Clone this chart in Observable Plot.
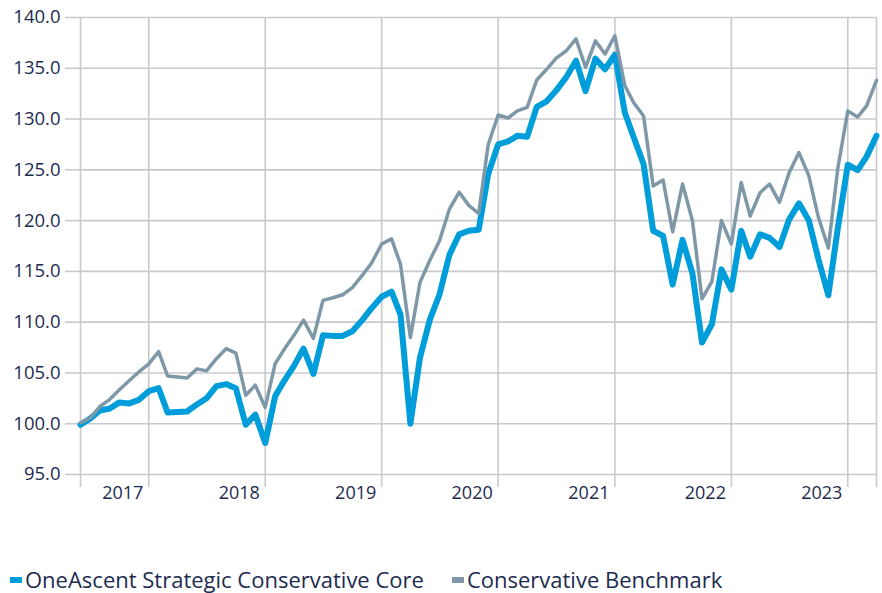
<!DOCTYPE html>
<html>
<head>
<meta charset="utf-8">
<script src="https://cdn.jsdelivr.net/npm/d3@7"></script>
<script src="https://cdn.jsdelivr.net/npm/@observablehq/plot@0.6"></script>
<style>
  html, body { margin: 0; padding: 0; background: #fff; }
  #wrap { position: relative; width: 882px; height: 593px; font-family: "Open Sans", sans-serif; }
  #legend { position: absolute; left: 10px; top: 567px; display: flex; align-items: center; font-size: 22px; line-height: 25px; color: #1d2b4f; white-space: nowrap; }
  .item { display: flex; align-items: center; margin-right: 28px; }
  .sw { width: 12px; height: 6px; margin-right: 3px; }
</style>
</head>
<body>
<div id="wrap">
  <div id="chart"></div>
  <div id="legend"></div>
</div>
<script>
const seriesNames = ["OneAscent Strategic Conservative Core", "Conservative Benchmark"];
const seriesColors = ["#009ddb", "#7f98a8"];

// monthly index values, Jun 2016 .. Apr 2023 (start = 100)
const fund = [
  99.9, 100.5, 101.3, 101.5, 102.1, 102.0, 102.35, 103.2, 103.5, 101.1,
  101.15, 101.2, 101.9, 102.5, 103.7, 103.9, 103.5, 99.9, 100.9, 98.1,
  102.7, 104.2, 105.7, 107.4, 104.9, 108.7, 108.65, 108.65, 109.1, 110.2,
  111.4, 112.5, 113.0, 110.75, 100.0, 106.5, 110.25, 112.7, 116.6, 118.65,
  119.0, 119.1, 124.6, 127.5, 127.8, 128.35, 128.25, 131.2, 131.75, 132.8,
  134.1, 135.75, 132.75, 135.95, 134.9, 136.35, 130.65, 128.2, 125.55, 119.0,
  118.5, 113.7, 118.1, 114.8, 108.0, 109.8, 115.2, 113.2, 119.0, 116.45,
  118.65, 118.3, 117.4, 120.1, 121.7, 120.0, 116.2, 112.65, 119.3, 125.5,
  124.97, 126.3, 128.35
];
const bench = [
  100.1, 100.55, 101.7, 102.4, 103.35, 104.25, 105.1, 105.9, 107.1, 104.7,
  104.6, 104.5, 105.4, 105.2, 106.4, 107.4, 106.95, 102.8, 103.8, 101.6,
  105.9, 107.3, 108.7, 110.2, 108.4, 112.15, 112.4, 112.7, 113.4, 114.6,
  115.85, 117.7, 118.2, 115.7, 108.5, 113.9, 116.1, 118.0, 121.1, 122.8,
  121.5, 120.7, 127.5, 130.4, 130.1, 130.8, 131.15, 133.85, 134.9, 136.0,
  136.7, 137.9, 135.1, 137.7, 136.4, 138.2, 133.3, 131.6, 130.3, 123.4,
  124.0, 118.9, 123.6, 120.0, 112.3, 114.0, 120.0, 117.7, 123.75, 120.45,
  122.75, 123.6, 121.8, 124.7, 126.7, 124.4, 120.3, 117.3, 125.2, 130.8,
  130.2, 131.3, 133.8
];
const yTicks = [95, 100, 105, 110, 115, 120, 125, 130, 135, 140];
const yearLabels = ["2017", "2018", "2019", "2020", "2021", "2022", "2023"];

const months = d3.utcMonth.range(new Date(Date.UTC(2016, 5, 1)), new Date(Date.UTC(2023, 4, 1)));
const rows = [];
months.forEach((d, i) => {
  rows.push({date: d, value: fund[i], series: seriesNames[0]});
  rows.push({date: d, value: bench[i], series: seriesNames[1]});
});
const yearTicks = yearLabels.map(y => new Date(Date.UTC(+y, 0, 1)));
const edgeTicks = [months[0], ...yearTicks, months[months.length - 1]];

const gridColor = "#c8c9cf";
const textColor = "#1d2b4f";

const chart = Plot.plot({
  width: 882,
  height: 530,
  marginTop: 17,
  marginBottom: 56,
  marginLeft: 80,
  marginRight: 6,
  style: {fontFamily: "Open Sans", fontSize: "18.5px", color: textColor, background: "white", overflow: "visible"},
  x: {type: "utc", domain: [months[0], months[months.length - 1]]},
  y: {domain: [95, 140]},
  marks: [
    Plot.gridY(yTicks, {stroke: gridColor, strokeOpacity: 1, strokeWidth: 1.6}),
    Plot.gridX(edgeTicks, {stroke: gridColor, strokeOpacity: 1, strokeWidth: 1.6}),
    Plot.axisY(yTicks, {tickSize: 15, tickPadding: 5, stroke: gridColor, strokeOpacity: 1, strokeWidth: 1.6,
      tickFormat: d => d.toFixed(1), fill: textColor, label: null}),
    Plot.axisX(edgeTicks, {tickSize: 13, tickFormat: () => "", stroke: gridColor, strokeOpacity: 1, strokeWidth: 1.6, label: null}),
    Plot.axisX(yearTicks, {tickSize: 0, tickPadding: 12, dx: -26, fontSize: 18, tickFormat: d => String(d.getUTCFullYear()), fill: textColor, label: null}),
    Plot.line(rows.filter(r => r.series === seriesNames[0]), {x: "date", y: "value", stroke: seriesColors[0], strokeWidth: 6, strokeLinejoin: "round", strokeLinecap: "round"}),
    Plot.line(rows.filter(r => r.series === seriesNames[1]), {x: "date", y: "value", stroke: seriesColors[1], strokeWidth: 3.5, strokeLinejoin: "round", strokeLinecap: "round"})
  ]
});
document.getElementById("chart").appendChild(chart);

const legend = document.getElementById("legend");
seriesNames.forEach((name, i) => {
  const item = document.createElement("div");
  item.className = "item";
  const sw = document.createElement("span");
  sw.className = "sw";
  sw.style.background = seriesColors[i];
  const t = document.createElement("span");
  t.textContent = name;
  item.appendChild(sw);
  item.appendChild(t);
  legend.appendChild(item);
});
</script>
</body>
</html>
